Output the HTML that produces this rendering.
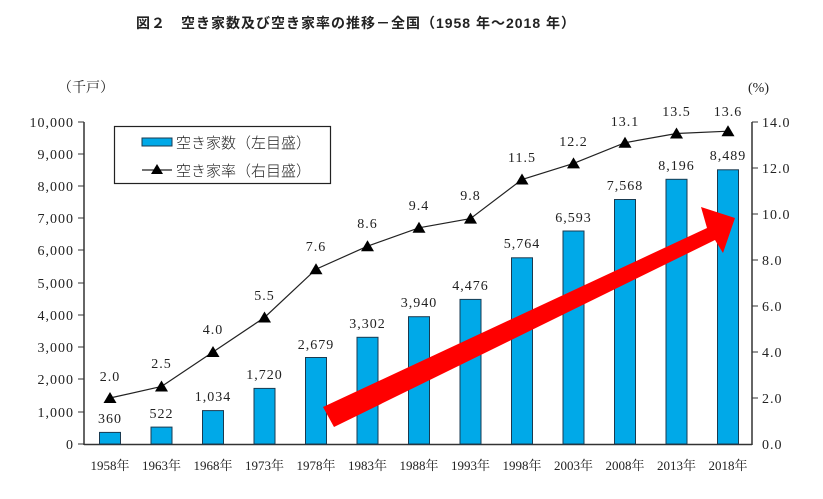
<!DOCTYPE html>
<html><head><meta charset="utf-8"><style>
body{margin:0;background:#fff;}
svg text{font-family:"Liberation Serif","Noto Serif CJK SC",serif;fill:#222;}
.n text{letter-spacing:1px;}
</style></head><body>
<svg width="823" height="494" xmlns="http://www.w3.org/2000/svg">
<text x="356" y="28" text-anchor="middle" style="font-family:'Liberation Sans','Noto Sans CJK JP',sans-serif;font-weight:bold;font-size:14px;letter-spacing:1px">図２　空き家数及び空き家率の推移－全国（1958 年～2018 年）</text>
<text x="58" y="92" font-size="14">（千戸）</text>
<text x="748" y="92" font-size="14">(%)</text>
<g class="n" font-size="14" text-anchor="end">
<text x="74" y="449">0</text><text x="74" y="417">1,000</text><text x="74" y="384">2,000</text><text x="74" y="352">3,000</text><text x="74" y="320">4,000</text><text x="74" y="288">5,000</text><text x="74" y="255">6,000</text><text x="74" y="223">7,000</text><text x="74" y="191">8,000</text><text x="74" y="159">9,000</text><text x="74" y="127">10,000</text>
</g>
<g class="n" font-size="14">
<text x="762" y="449">0.0</text><text x="762" y="403">2.0</text><text x="762" y="357">4.0</text><text x="762" y="311">6.0</text><text x="762" y="265">8.0</text><text x="762" y="219">10.0</text><text x="762" y="173">12.0</text><text x="762" y="127">14.0</text>
</g>
<g stroke="#333" stroke-width="1.5" fill="none">
<line x1="84" y1="122" x2="84" y2="445"/>
<line x1="752" y1="122" x2="752" y2="445"/>
<line x1="84" y1="444.5" x2="752" y2="444.5"/>
</g>
<g stroke="#333" stroke-width="1">
<line x1="78" y1="444" x2="84" y2="444"/><line x1="78" y1="412" x2="84" y2="412"/><line x1="78" y1="379" x2="84" y2="379"/><line x1="78" y1="347" x2="84" y2="347"/><line x1="78" y1="315" x2="84" y2="315"/><line x1="78" y1="283" x2="84" y2="283"/><line x1="78" y1="250" x2="84" y2="250"/><line x1="78" y1="218" x2="84" y2="218"/><line x1="78" y1="186" x2="84" y2="186"/><line x1="78" y1="154" x2="84" y2="154"/><line x1="78" y1="122" x2="84" y2="122"/>
<line x1="752" y1="398" x2="758" y2="398"/><line x1="752" y1="352" x2="758" y2="352"/><line x1="752" y1="306" x2="758" y2="306"/><line x1="752" y1="260" x2="758" y2="260"/><line x1="752" y1="214" x2="758" y2="214"/><line x1="752" y1="168" x2="758" y2="168"/><line x1="752" y1="122" x2="758" y2="122"/>
</g>
<g fill="#00a9e8" stroke="#1a3a50" stroke-width="1">
<rect x="99.5" y="432.4" width="21" height="11.6"/>
<rect x="151" y="427.1" width="21" height="16.9"/>
<rect x="202.5" y="410.6" width="21" height="33.4"/>
<rect x="254" y="388.4" width="21" height="55.6"/>
<rect x="305.5" y="357.5" width="21" height="86.5"/>
<rect x="357" y="337.3" width="21" height="106.7"/>
<rect x="408.5" y="316.7" width="21" height="127.3"/>
<rect x="460" y="299.4" width="21" height="144.6"/>
<rect x="511.5" y="257.8" width="21" height="186.2"/>
<rect x="563" y="231" width="21" height="213"/>
<rect x="614.5" y="199.5" width="21" height="244.5"/>
<rect x="666" y="179.3" width="21" height="264.7"/>
<rect x="717.5" y="169.8" width="21" height="274.2"/>
</g>
<g class="n" font-size="14" text-anchor="middle">
<text x="110" y="423">360</text><text x="161.5" y="418">522</text><text x="213" y="401">1,034</text><text x="264.5" y="379">1,720</text><text x="316" y="349">2,679</text><text x="367.5" y="328">3,302</text><text x="419" y="307">3,940</text><text x="470.5" y="290">4,476</text><text x="522" y="248">5,764</text><text x="573.5" y="222">6,593</text><text x="625" y="190">7,568</text><text x="676.5" y="170">8,196</text><text x="728" y="160">8,489</text>
</g>
<polyline fill="none" stroke="#222" stroke-width="1.2" points="110,398 161.5,386.5 213,352 264.5,317.5 316,269.2 367.5,246.2 419,227.8 470.5,218.6 522,179.5 573.5,163.4 625,142.7 676.5,133.5 728,131.2"/>
<g fill="#000">
<path d="M110,392 l-6.5,11 h13z"/><path d="M161.5,380.5 l-6.5,11 h13z"/><path d="M213,346 l-6.5,11 h13z"/><path d="M264.5,311.5 l-6.5,11 h13z"/><path d="M316,263.2 l-6.5,11 h13z"/><path d="M367.5,240.2 l-6.5,11 h13z"/><path d="M419,221.8 l-6.5,11 h13z"/><path d="M470.5,212.6 l-6.5,11 h13z"/><path d="M522,173.5 l-6.5,11 h13z"/><path d="M573.5,157.4 l-6.5,11 h13z"/><path d="M625,136.7 l-6.5,11 h13z"/><path d="M676.5,127.5 l-6.5,11 h13z"/><path d="M728,125.2 l-6.5,11 h13z"/>
</g>
<g class="n" font-size="14" text-anchor="middle">
<text x="110" y="381">2.0</text><text x="161.5" y="368">2.5</text><text x="213" y="334">4.0</text><text x="264.5" y="300">5.5</text><text x="316" y="251">7.6</text><text x="367.5" y="228">8.6</text><text x="419" y="210">9.4</text><text x="470.5" y="200">9.8</text><text x="522" y="162">11.5</text><text x="573.5" y="146">12.2</text><text x="625" y="126">13.1</text><text x="676.5" y="116">13.5</text><text x="728" y="116">13.6</text>
</g>
<polygon fill="#ff0000" points="323,407 707,228 701,207 735,218 723,253 715,240 334,427"/>
<rect x="114.5" y="126.5" width="216" height="57" fill="#fff" stroke="#222" stroke-width="1.2"/>
<rect x="142" y="138" width="30" height="8" fill="#00a9e8" stroke="#1a3a50" stroke-width="1"/>
<text x="176" y="148" font-size="15" style="font-family:'Noto Sans CJK JP',sans-serif;font-weight:300">空き家数（左目盛）</text>
<line x1="142" y1="170" x2="172" y2="170" stroke="#222" stroke-width="1.2"/>
<path d="M157,164 l-6,10 h12z" fill="#000"/>
<text x="176" y="176" font-size="15" style="font-family:'Noto Sans CJK JP',sans-serif;font-weight:300">空き家率（右目盛）</text>
<g font-size="13" text-anchor="middle">
<text x="110" y="470">1958年</text><text x="161.5" y="470">1963年</text><text x="213" y="470">1968年</text><text x="264.5" y="470">1973年</text><text x="316" y="470">1978年</text><text x="367.5" y="470">1983年</text><text x="419" y="470">1988年</text><text x="470.5" y="470">1993年</text><text x="522" y="470">1998年</text><text x="573.5" y="470">2003年</text><text x="625" y="470">2008年</text><text x="676.5" y="470">2013年</text><text x="728" y="470">2018年</text>
</g>
</svg>
</body></html>
